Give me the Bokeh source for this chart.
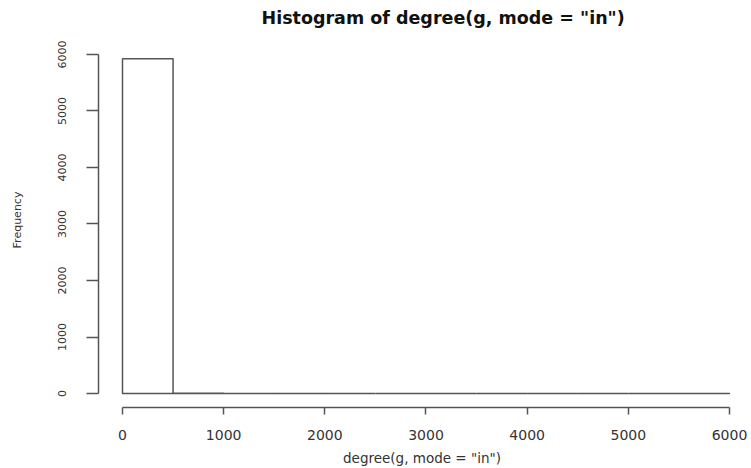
from bokeh.plotting import figure
from bokeh.models import FixedTicker, ColumnDataSource
from bokeh.embed import file_html
from bokeh.resources import INLINE

# Histogram bins (width 500) and frequencies
bin_left = [0, 500, 1000, 1500, 2000, 2500, 3000, 3500, 4000, 4500, 5000, 5500]
bin_right = [500, 1000, 1500, 2000, 2500, 3000, 3500, 4000, 4500, 5000, 5500, 6000]
counts = [5925, 3, 1, 1, 0, 0, 0, 0, 0, 0, 0, 1]

x_ticks = [0, 1000, 2000, 3000, 4000, 5000, 6000]
y_ticks = [0, 1000, 2000, 3000, 4000, 5000, 6000]

title_text = 'Histogram of degree(g, mode = "in")'
x_label = 'degree(g, mode = "in")'
y_label = "Frequency"

src = ColumnDataSource(dict(left=bin_left, right=bin_right, top=counts))

p = figure(width=751, height=468, output_backend="svg", toolbar_location=None,
           x_range=(-237.2, 6158.2), y_range=(-247, 6388.2),
           min_border_left=98, min_border_right=6, min_border_top=32,
           min_border_bottom=60)

p.quad(left="left", right="right", bottom=0, top="top", source=src,
       fill_color="white", line_color="#555555", line_width=1.5)

p.xgrid.visible = False
p.ygrid.visible = False
p.outline_line_color = None
p.background_fill_color = "white"
p.border_fill_color = "white"

axis_color = "#555555"
text_color = "#333333"

xa = p.xaxis[0]
xa.ticker = FixedTicker(ticks=x_ticks)
xa.bounds = (0, 6000)
xa.major_tick_out = 7
xa.major_tick_in = 0
xa.minor_tick_out = 0
xa.minor_tick_in = 0
xa.axis_line_color = axis_color
xa.axis_line_width = 1.5
xa.major_tick_line_color = axis_color
xa.major_tick_line_width = 1.5
xa.major_label_text_font = "DejaVu Sans"
xa.major_label_text_font_size = "14px"
xa.major_label_text_color = text_color
xa.major_label_standoff = 15
xa.axis_label = x_label
xa.axis_label_text_font = "DejaVu Sans"
xa.axis_label_text_font_size = "13.5px"
xa.axis_label_text_font_style = "normal"
xa.axis_label_text_color = text_color
xa.axis_label_standoff = 7

ya = p.yaxis[0]
ya.ticker = FixedTicker(ticks=y_ticks)
ya.bounds = (0, 6000)
ya.major_tick_out = 12
ya.major_tick_in = 0
ya.minor_tick_out = 0
ya.minor_tick_in = 0
ya.axis_line_color = axis_color
ya.axis_line_width = 1.5
ya.major_tick_line_color = axis_color
ya.major_tick_line_width = 1.5
ya.major_label_text_font = "DejaVu Sans"
ya.major_label_text_font_size = "11px"
ya.major_label_text_color = text_color
ya.major_label_orientation = "vertical"
ya.major_label_standoff = 20
ya.axis_label = y_label
ya.axis_label_text_font = "DejaVu Sans"
ya.axis_label_text_font_size = "11px"
ya.axis_label_text_font_style = "normal"
ya.axis_label_text_color = text_color
ya.axis_label_standoff = 32

p.title.text = title_text
p.title.text_font = "DejaVu Sans"
p.title.text_font_style = "bold"
p.title.text_font_size = "17.5px"
p.title.text_color = "#111111"
p.title.align = "left"
p.title.offset = 163
p.title.standoff = 10

open("out.html", "w").write(file_html(p, INLINE))
